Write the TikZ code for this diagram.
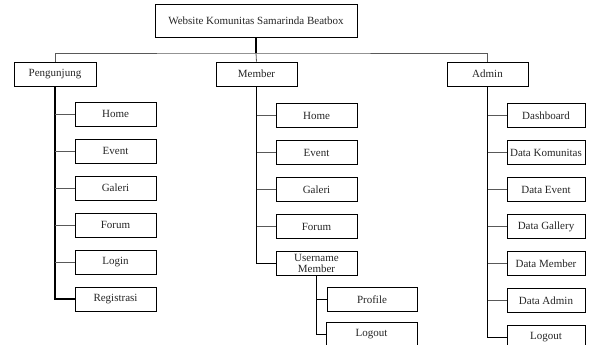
\documentclass[tikz,border=0pt]{standalone}
\usepackage{fontspec}
\setmainfont{Liberation Serif}
\begin{document}
\begin{tikzpicture}[x=1pt,y=-1pt,
  box/.style={draw=black,line width=0.7pt,fill=white,inner sep=0pt,minimum height=24pt,
    font=\fontsize{11}{11}\selectfont,text=black!85,align=center},
  pbox/.style={box,minimum width=81pt},
  mbox/.style={box,minimum width=81pt},
  abox/.style={box,minimum width=78pt},
  trunk/.style={draw=black,line width=1.2pt},
  branch/.style={draw=black!65,line width=0.8pt}]
\useasboundingbox (0,0) rectangle (595,345);
\clip (0,0) rectangle (595,345);
% root and level 1
\node[box,minimum width=202pt,minimum height=33pt] (root) at (256,20.5) {Website Komunitas Samarinda Beatbox};
\node[box,minimum width=82pt] (peng) at (55,74) {Pengunjung};
\node[box,minimum width=81pt] (mem) at (256.5,74) {Member};
\node[box,minimum width=81pt] (adm) at (487.5,74) {Admin};
\coordinate (bus) at (256,53);
% Pengunjung children
\node[pbox] (p1) at (115.5,114) {Home};
\node[pbox] (p2) at (115.5,151) {Event};
\node[pbox] (p3) at (115.5,188) {Galeri};
\node[pbox] (p4) at (115.5,225) {Forum};
\node[pbox] (p5) at (115.5,262) {Login};
\node[pbox] (p6) at (115.5,299) {Registrasi};
% Member children
\node[mbox] (m1) at (316.5,115.5) {Home};
\node[mbox] (m2) at (316.5,152.5) {Event};
\node[mbox] (m3) at (316.5,189.5) {Galeri};
\node[mbox] (m4) at (316.5,226.5) {Forum};
\node[mbox] (m5) at (316.5,263.5) {Username\\Member};
\node[box,minimum width=90pt] (u1) at (372,299.5) {Profile};
\node[box,minimum width=91pt] (u2) at (371.5,334.5) {Logout};
% Admin children
\node[abox] (a1) at (546,115.5) {Dashboard};
\node[abox] (a2) at (546,152.5) {Data Komunitas};
\node[abox] (a3) at (546,189.5) {Data Event};
\node[abox] (a4) at (546,226.5) {Data Gallery};
\node[abox] (a5) at (546,263.5) {Data Member};
\node[abox] (a6) at (546,300.5) {Data Admin};
\node[abox] (a7) at (546,337.5) {Logout};
% top connectors
\draw[branch] (peng.north) |- (bus) -| (adm.north);
\draw[branch] (bus) -- (mem.north);
\draw[trunk] (root.south) -- (bus);
% Pengunjung
\draw[trunk] (peng.south) |- (p6.west);
\foreach \c in {p1,p2,p3,p4,p5} \draw[branch] (peng.south |- \c.west) -- (\c.west);
% Member
\draw[trunk] (mem.south) |- (m5.west);
\foreach \c in {m1,m2,m3,m4} \draw[branch] (mem.south |- \c.west) -- (\c.west);
\draw[trunk] (m5.south) |- (u2.west);
\draw[trunk] (m5.south |- u1.west) -- (u1.west);
% Admin
\draw[trunk] (adm.south) |- (a7.west);
\foreach \c in {a1,a2,a3,a4,a5,a6} \draw[branch] (adm.south |- \c.west) -- (\c.west);
\end{tikzpicture}
\end{document}
